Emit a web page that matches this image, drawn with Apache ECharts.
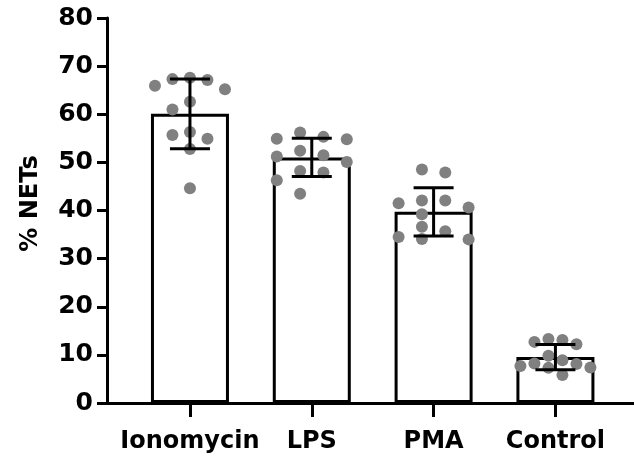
<!DOCTYPE html>
<html>
<head>
<meta charset="utf-8">
<script src="https://cdn.jsdelivr.net/npm/echarts@6/dist/echarts.min.js"></script>
<style>
html,body{margin:0;padding:0;background:#fff;}
#chart{width:634px;height:460px;}
</style>
</head>
<body>
<div id="chart"></div>
<script>
// ---- data ----
const categories = ['Ionomycin', 'LPS', 'PMA', 'Control'];
const ionomycin = [67.3, 67.6, 67.1, 65.9, 65.2, 62.6, 61.0, 55.7, 56.3, 54.9, 52.8, 44.6];
const lps       = [54.9, 55.3, 56.2, 54.8, 51.5, 52.4, 51.2, 50.1, 47.9, 48.2, 46.3, 43.5];
const pma       = [47.9, 48.5, 42.1, 42.1, 40.6, 41.5, 39.2, 36.6, 34.0, 35.7, 34.1, 34.5];
const control   = [13.1, 13.3, 12.2, 12.7, 9.8, 8.9, 7.7, 8.1, 8.2, 7.4, 5.8, 7.3];
const yTicks = { min: 0, max: 80, interval: 10 };
const axisTitle = '% NETs';

// ---- layout ----
const W = 634, H = 460;
const GRID = { left: 107, right: 0, top: 18, bottom: 57 };
const X_MIN = -0.681, X_MAX = 3.645;
const DOT = 12, SPREAD = 70;
const groups = [ionomycin, lps, pma, control];

const pxY = (H - GRID.top - GRID.bottom) / (yTicks.max - yTicks.min);
const pxX = (W - GRID.left - GRID.right) / (X_MAX - X_MIN);

function mean(a) { return a.reduce((s, v) => s + v, 0) / a.length; }
function sd(a) { const m = mean(a); return Math.sqrt(a.reduce((s, v) => s + (v - m) * (v - m), 0) / (a.length - 1)); }

// simple column beeswarm
function swarm(values, idx) {
  const sorted = values.slice().sort((a, b) => b - a);
  const h = DOT / pxY;
  let m = 1, rowTop = null, cnt = 0;
  sorted.forEach(v => {
    if (rowTop === null || rowTop - v >= h) { rowTop = v; cnt = 1; } else { cnt++; }
    m = Math.max(m, cnt);
  });
  const s = m > 1 ? SPREAD / (m - 1) : 0;
  const cols = [];
  for (let k = 0; k < m; k++) cols.push((k - (m - 1) / 2) * s);
  cols.sort((a, b) => Math.abs(a) - Math.abs(b) || a - b);
  const placed = [];
  sorted.forEach(v => {
    let best = null, bestD = -1;
    for (const o of cols) {
      let minD = Infinity;
      for (const p of placed) minD = Math.min(minD, Math.hypot(o - p.o, (v - p.v) * pxY));
      if (minD >= DOT) { best = o; break; }
      if (minD > bestD) { bestD = minD; best = o; }
    }
    placed.push({ o: best, v: v });
  });
  return placed.map(p => [idx + p.o / pxX, p.v]);
}

const barData = groups.map((g, i) => [i, mean(g)]);
const errData = groups.map((g, i) => [i, mean(g), sd(g)]);
let dotData = [];
groups.forEach((g, i) => { dotData = dotData.concat(swarm(g, i)); });

const FONT = 'DejaVu Sans';
const chart = echarts.init(document.getElementById('chart'), null, { renderer: 'canvas' });
chart.setOption({
  animation: false,
  backgroundColor: '#fff',
  grid: { left: GRID.left, right: GRID.right, top: GRID.top, bottom: GRID.bottom, containLabel: false },
  xAxis: {
    type: 'value', min: X_MIN, max: X_MAX,
    splitLine: { show: false },
    axisLine: { show: true, onZero: false, lineStyle: { color: '#000', width: 3 } },
    axisTick: { show: true, inside: false, length: 14, lineStyle: { color: '#000', width: 3 }, customValues: [0, 1, 2, 3] },
    axisLabel: {
      customValues: [0, 1, 2, 3],
      formatter: v => categories[Math.round(v)] || '',
      color: '#000', fontFamily: FONT, fontWeight: 'bold', fontSize: 24, margin: 27
    }
  },
  yAxis: {
    type: 'value', min: yTicks.min, max: yTicks.max, interval: yTicks.interval,
    name: axisTitle, nameLocation: 'middle', nameRotate: 90, nameGap: 64,
    nameTextStyle: { color: '#000', fontFamily: FONT, fontWeight: 'bold', fontSize: 24, padding: [0, 0, 0, 14] },
    splitLine: { show: false },
    axisLine: { show: true, onZero: false, lineStyle: { color: '#000', width: 3 } },
    axisTick: { show: true, inside: false, length: 10, lineStyle: { color: '#000', width: 3 } },
    axisLabel: { color: '#000', fontFamily: FONT, fontWeight: 'bold', fontSize: 25, margin: 14 }
  },
  series: [
    {
      type: 'bar', data: barData, barWidth: 78, z: 1,
      itemStyle: { color: '#fff', borderColor: '#000', borderWidth: 3 }
    },
    {
      type: 'scatter', data: dotData, symbol: 'circle', symbolSize: DOT, z: 2,
      itemStyle: { color: '#808080', opacity: 1 }
    },
    {
      type: 'custom', z: 3, data: errData,
      renderItem: function (params, api) {
        const x = api.value(0), m = api.value(1), s = api.value(2);
        const top = api.coord([x, m + s]);
        const bot = api.coord([x, m - s]);
        const hw = 20;
        const st = { stroke: '#000', lineWidth: 3 };
        return {
          type: 'group',
          children: [
            { type: 'line', shape: { x1: top[0], y1: top[1], x2: bot[0], y2: bot[1] }, style: st },
            { type: 'line', shape: { x1: top[0] - hw, y1: top[1], x2: top[0] + hw, y2: top[1] }, style: st },
            { type: 'line', shape: { x1: bot[0] - hw, y1: bot[1], x2: bot[0] + hw, y2: bot[1] }, style: st }
          ]
        };
      }
    }
  ]
});
</script>
</body>
</html>
